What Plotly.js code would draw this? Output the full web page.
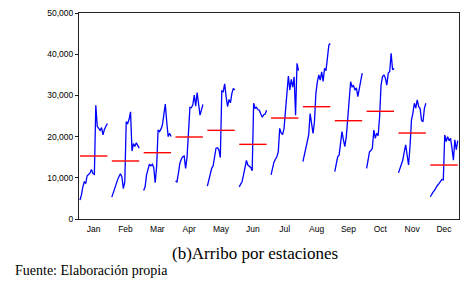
<!DOCTYPE html>
<html>
<head>
<meta charset="utf-8">
<script src="https://cdn.plot.ly/plotly-3.0.1.min.js"></script>
<style>
  html, body { margin: 0; padding: 0; background: #fff; }
  #chart { width: 472px; height: 288px; }
</style>
</head>
<body>
<div id="chart"></div>
<script>
const months = ["Jan","Feb","Mar","Apr","May","Jun","Jul","Aug","Sep","Oct","Nov","Dec"];

const jan = [4600,5800,7800,9000,8700,10500,10800,11200,12000,11000,10800,27600,22500,21800,21500,22200,20400,21800,22500,23200];
const feb = [5300,6400,7700,8800,9500,10300,11000,10200,7400,9000,23600,23200,24200,26000,16500,18300,17600,18500,17800,17200];
const mar = [6900,7800,10700,11900,13300,12900,13300,12500,8800,12700,21600,21200,21800,22800,25200,27900,23600,20000,20800,20000];
const apr = [9200,9000,11100,13500,14500,15100,15300,12300,15000,20800,27100,27000,27700,30100,27400,30700,28100,25200,26500,27800];
const may = [8000,9500,10300,12300,12900,15100,17200,17300,16800,14900,31100,30900,32800,29700,27300,29000,28200,30500,31700,31300];
const jun = [7800,8600,9100,10700,12300,14200,13100,12700,12500,11700,28100,26900,27100,26500,26400,25500,24700,25300,25500,26400];
const jul = [10700,12700,13800,14500,15100,16300,22000,20900,20500,22000,26500,32300,34700,31300,33900,32000,34500,25200,37800,36000];
const aug = [13900,15500,16800,18800,20400,25600,23200,20800,23600,30500,33300,35000,33700,35700,33400,36600,36000,39000,42200,42600];
const sep = [11500,13500,15100,15500,18400,21200,19200,17600,20000,24800,30500,33300,32100,32400,31300,31800,29700,31800,34100,35400];
const oct = [12300,14700,16300,16600,17200,21600,19600,20800,20200,24800,32500,34500,35000,34200,32500,35400,35800,40200,36200,36600];
const nov = [11200,12300,13200,14300,16300,18000,15500,13100,17600,24000,25700,28100,26900,28900,27300,26800,24000,23600,26900,28100];
const dec = [5400,6100,6600,7000,7800,8200,8600,9100,9600,9500,20400,18800,20000,19000,19600,17200,14300,19200,16800,19000];

const means = [15290,14080,16100,19900,21520,18120,24510,27260,23860,26140,20870,13100];

const series = [jan,feb,mar,apr,may,jun,jul,aug,sep,oct,nov,dec];
const segW = 0.86;

const traces = [];
series.forEach((vals, m) => {
  const n = vals.length;
  traces.push({
    type: 'scatter', mode: 'lines',
    x: vals.map((v, j) => m + j * segW / (n - 1)),
    y: vals,
    line: {color: '#0000ff', width: 1.3},
    hoverinfo: 'skip', showlegend: false
  });
});
means.forEach((v, m) => {
  traces.push({
    type: 'scatter', mode: 'lines',
    x: [m, m + segW],
    y: [v, v],
    line: {color: '#ff0000', width: 1.4},
    hoverinfo: 'skip', showlegend: false
  });
});

const layout = {
  width: 472, height: 288,
  margin: {l: 79, r: 13, t: 13, b: 69, pad: 0},
  paper_bgcolor: '#ffffff', plot_bgcolor: '#ffffff',
  font: {family: 'Liberation Sans, Arial, sans-serif', size: 8.5, color: '#000'},
  xaxis: {
    range: [-0.03, 11.90],
    tickmode: 'array',
    tickvals: months.map((_, m) => m + segW / 2),
    ticktext: months,
    ticks: 'outside', ticklen: 2, tickcolor: 'rgba(0,0,0,0)',
    showgrid: false, zeroline: false,
    showline: true, linecolor: '#222', linewidth: 1, mirror: true,
    tickfont: {size: 8.5, color: '#000'}
  },
  yaxis: {
    range: [0, 50000],
    tickmode: 'array',
    tickvals: [0, 10000, 20000, 30000, 40000, 50000],
    ticktext: ['0', '10,000', '20,000', '30,000', '40,000', '50,000'],
    ticks: 'outside', ticklen: 3, tickcolor: '#222',
    showgrid: false, zeroline: false,
    showline: true, linecolor: '#222', linewidth: 1, mirror: true,
    tickfont: {size: 8.5, color: '#000'}
  },
  annotations: [
    {text: '(b)Arribo por estaciones', xref: 'paper', yref: 'paper',
     x: 0.464, y: -0.168, xanchor: 'center', yanchor: 'middle', showarrow: false,
     font: {family: 'Liberation Serif, DejaVu Serif, serif', size: 17, color: '#000'}},
    {text: 'Fuente: Elaboración propia', xref: 'paper', yref: 'paper',
     x: -0.174, y: -0.25, xanchor: 'left', yanchor: 'middle', showarrow: false,
     font: {family: 'Liberation Serif, DejaVu Serif, serif', size: 14, color: '#000'}}
  ]
};

Plotly.newPlot('chart', traces, layout, {staticPlot: true, displayModeBar: false});
</script>
</body>
</html>
